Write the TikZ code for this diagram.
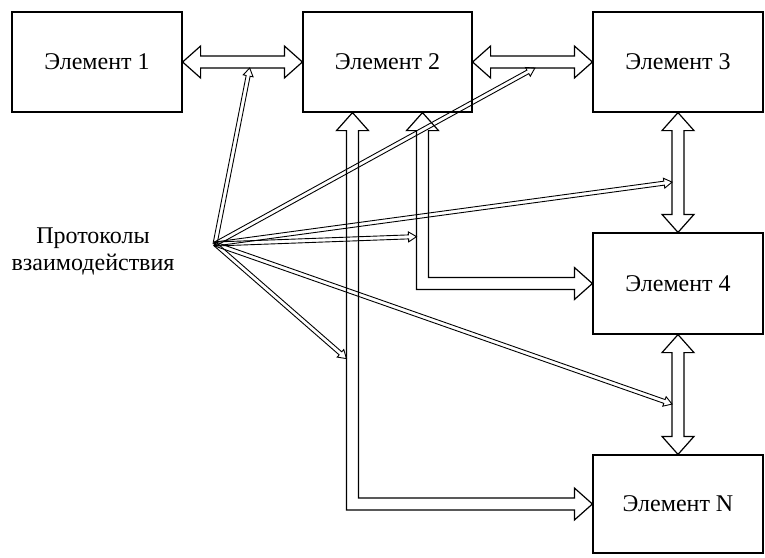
\documentclass[tikz,border=0pt]{standalone}
\usepackage{fontspec}
\setmainfont{Liberation Serif}
\usetikzlibrary{calc}

\begin{document}
\begin{tikzpicture}[x=1pt,y=-1pt,line join=miter]

    % let's define some key values
    \def\fhw{6pt}   % half width of a fat shaft
    \def\fhh{16pt}  % half width of a fat head
    \def\fhl{18pt}  % length of a fat head
    \def\phw{2pt}   % half width of a protocol line
    \def\phh{5pt}
    \def\phl{8pt}
    \def\xoff{35pt}

    % Styles
    \tikzset{
        element/.style={draw, line width=1.2pt, minimum width=170pt,
            minimum height=100pt, inner sep=0pt,
            font=\fontsize{24}{27}\selectfont},
        fatarrow/.style={draw, line width=1.2pt},
        protoline/.style={draw, line width=0.9pt}
    }

    % hollow double arrow between two points
    \def\fatarrow#1#2{\draw[fatarrow] let \p1=(#1), \p2=(#2),
        \n1={atan2(\y2-\y1,\x2-\x1)} in
        (\p1) -- ($(\p1)+(\n1:\fhl)+(\n1+90:\fhh)$)
        -- ($(\p1)+(\n1:\fhl)+(\n1+90:\fhw)$)
        -- ($(\p2)+(\n1+180:\fhl)+(\n1+90:\fhw)$)
        -- ($(\p2)+(\n1+180:\fhl)+(\n1+90:\fhh)$)
        -- (\p2)
        -- ($(\p2)+(\n1+180:\fhl)+(\n1-90:\fhh)$)
        -- ($(\p2)+(\n1+180:\fhl)+(\n1-90:\fhw)$)
        -- ($(\p1)+(\n1:\fhl)+(\n1-90:\fhw)$)
        -- ($(\p1)+(\n1:\fhl)+(\n1-90:\fhh)$) -- cycle;}

    % thin hollow arrow of a protocol
    \def\protoarrow#1#2{\draw[protoline] let \p1=(#1), \p2=(#2),
        \n1={atan2(\y2-\y1,\x2-\x1)} in
        ($(\p1)+(\n1+90:\phw)$)
        -- ($(\p2)+(\n1+180:\phl)+(\n1+90:\phw)$)
        -- ($(\p2)+(\n1+180:\phl)+(\n1+90:\phh)$)
        -- (\p2)
        -- ($(\p2)+(\n1+180:\phl)+(\n1-90:\phh)$)
        -- ($(\p2)+(\n1+180:\phl)+(\n1-90:\phw)$)
        -- ($(\p1)+(\n1-90:\phw)$) -- cycle;}

    \useasboundingbox (0,0) rectangle (765,557);

    % elements
    \node[element] (e1) at (97,62) {Элемент 1};
    \node[element, minimum width=169pt] (e2) at (387.5,62) {Элемент 2};
    \node[element] (e3) at (678,62) {Элемент 3};
    \node[element, minimum height=101pt] (e4) at (678,283.5) {Элемент 4};
    \node[element, minimum height=98pt] (en) at (678,504) {Элемент N};

    % label of the protocols
    \node[align=center, font=\fontsize{24}{27}\selectfont] (proto)
        at (93,251) {Протоколы\\взаимодействия};
    \coordinate (hub) at (215,244);

    % links between neighbours
    \fatarrow{e1.east}{e2.west}
    \fatarrow{e2.east}{e3.west}
    \fatarrow{e3.south}{e4.north}
    \fatarrow{e4.south}{en.north}

    % links from element 2 down to element N and element 4
    \coordinate (upa) at ([xshift=-\xoff]e2.south);
    \coordinate (upb) at ([xshift=\xoff]e2.south);
    \draw[fatarrow] (upa) -- ++(16,18) -- ++(-10,0)
        |- ($(en.west)+(-18,-6)$) -- ++(0,-10) -- (en.west)
        -- ++(-18,16) -- ++(0,-10) -| ($(upa)+(-6,18)$)
        -- ++(-10,0) -- cycle;
    \draw[fatarrow] (upb) -- ++(16,18) -- ++(-10,0)
        |- ($(e4.west)+(-18,-6)$) -- ++(0,-10) -- (e4.west)
        -- ++(-18,16) -- ++(0,-10) -| ($(upb)+(-6,18)$)
        -- ++(-10,0) -- cycle;

    % where the protocols meet the links
    \coordinate (t1) at ($(e1.east)!0.56!(e2.west)+(0,6)$);
    \coordinate (t2) at ($(e2.east)!0.52!(e3.west)+(0,6)$);
    \coordinate (t3) at ($(e3.south)!0.58!(e4.north)+(-6,0)$);
    \coordinate (t4) at ($(upb)+(-6,124)$);
    \coordinate (t5) at ($(e4.south)!0.58!(en.north)+(-6,0)$);
    \coordinate (t6) at ($(upa)+(-6,246)$);

    % protocols
    \foreach \t in {t1,t2,t3,t4,t5,t6}
        \protoarrow{hub}{\t};

\end{tikzpicture}
\end{document}
